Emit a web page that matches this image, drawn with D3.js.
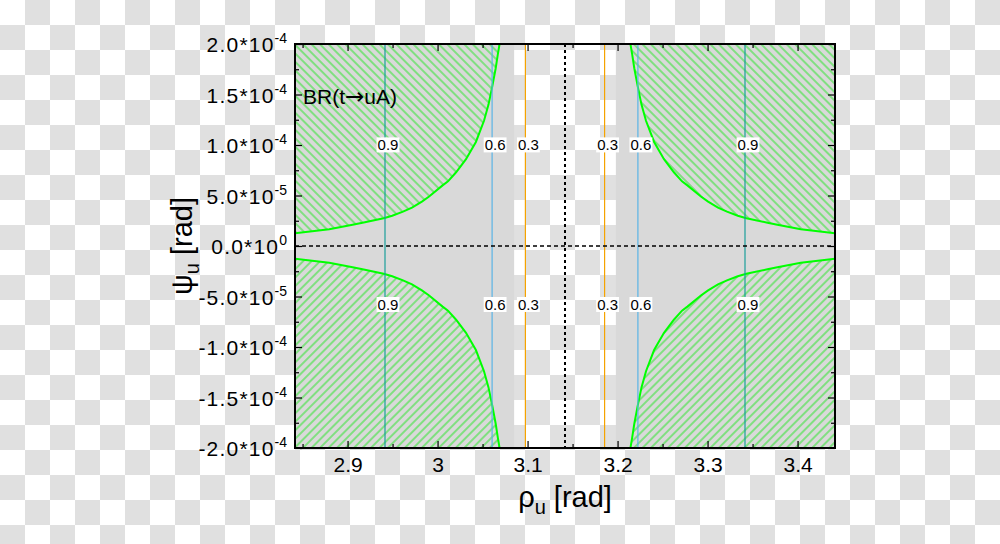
<!DOCTYPE html>
<html>
<head>
<meta charset="utf-8">
<script src="https://cdn.jsdelivr.net/npm/d3@7"></script>
<style>
  body { margin: 0; }
  svg { display: block; font-family: "Liberation Sans", Arial, sans-serif; }
</style>
</head>
<body>
<svg id="chart" width="1000" height="544"></svg>
<script>
// rho axis ticks (rad)
const rhoMajor = [2.9, 3.0, 3.1, 3.2, 3.3, 3.4];
const rhoLabels = ["2.9", "3", "3.1", "3.2", "3.3", "3.4"];
const rhoMinor = [2.85, 2.95, 3.05, 3.15, 3.25, 3.35];

// psi axis ticks (rad)
const psiMajor = [2e-4, 1.5e-4, 1e-4, 5e-5, 0, -5e-5, -1e-4, -1.5e-4, -2e-4];
const psiMantissa = ["2.0", "1.5", "1.0", "5.0", "0.0", "-5.0", "-1.0", "-1.5", "-2.0"];
const psiExponent = ["-4", "-4", "-4", "-5", "0", "-5", "-4", "-4", "-4"];
const psiMinor = [1.75e-4, 1.25e-4, 7.5e-5, 2.5e-5, -2.5e-5, -7.5e-5, -1.25e-4, -1.75e-4];

// BR contours: offset of each line from rho = pi
const contourLevels = ["0.3", "0.6", "0.9"];
const contourOffsets = [0.044, 0.081, 0.2];
const contourColors = ["#f5a300", "#5ab4e6", "#1a9e9a"];
const labelPsiTop = 1.0e-4;
const labelPsiBottom = -5.8e-5;

// excluded band edge: |rho - pi| vs |psi|, same in every quadrant
const edgeOffset = [0.0727, 0.0746, 0.0770, 0.0808, 0.0850, 0.0900, 0.0990, 0.1100,
  0.1210, 0.1300, 0.1360, 0.1510, 0.1590, 0.1700, 0.1800, 0.1920, 0.2015, 0.2250,
  0.2360, 0.2620, 0.3000];
const edgePsi = [2.0e-4, 1.9e-4, 1.76e-4, 1.58e-4, 1.40e-4, 1.24e-4, 1.03e-4, 8.6e-5,
  7.3e-5, 6.4e-5, 6.0e-5, 4.9e-5, 4.4e-5, 3.8e-5, 3.4e-5, 3.0e-5, 2.75e-5, 2.3e-5,
  2.1e-5, 1.65e-5, 1.26e-5];

// allowed (unshaded) half width around pi
const openHalfWidth = 0.0565;

const PI = Math.PI;
const pLeft = 295, pRight = 835, pTop = 44, pBottom = 448;

const svg = d3.select("#chart");
const x = d3.scaleLinear().domain([PI - 0.3, PI + 0.3]).range([pLeft, pRight]);
const y = d3.scaleLinear().domain([-2e-4, 2e-4]).range([pBottom, pTop]);

const defs = svg.append("defs");

// transparent-looking checkerboard
const checker = defs.append("pattern")
  .attr("id", "checker")
  .attr("patternUnits", "userSpaceOnUse")
  .attr("width", 50).attr("height", 50);
checker.append("rect").attr("width", 50).attr("height", 50).attr("fill", "#fff");
checker.append("rect").attr("x", 25).attr("width", 25).attr("height", 25).attr("fill", "#e0e0e0");
checker.append("rect").attr("y", 25).attr("width", 25).attr("height", 25).attr("fill", "#e0e0e0");

function hatch(id, angle) {
  const p = defs.append("pattern")
    .attr("id", id)
    .attr("patternUnits", "userSpaceOnUse")
    .attr("width", 6).attr("height", 6)
    .attr("patternTransform", `rotate(${angle})`);
  p.append("line")
    .attr("x1", 3).attr("y1", 0).attr("x2", 3).attr("y2", 6)
    .attr("stroke", "#14e614").attr("stroke-width", 0.9);
}
hatch("hatchDown", -45);
hatch("hatchUp", 45);

defs.append("clipPath").attr("id", "plotClip")
  .append("rect").attr("x", pLeft).attr("y", pTop)
  .attr("width", pRight - pLeft).attr("height", pBottom - pTop);

svg.append("rect").attr("width", 1000).attr("height", 544).attr("fill", "url(#checker)");

const plot = svg.append("g").attr("clip-path", "url(#plotClip)");

// shaded regions either side of the open band
plot.append("rect")
  .attr("x", x(PI - 0.3)).attr("y", pTop)
  .attr("width", x(PI - openHalfWidth) - x(PI - 0.3)).attr("height", pBottom - pTop)
  .attr("fill", "#d9d9d9");
plot.append("rect")
  .attr("x", x(PI + openHalfWidth)).attr("y", pTop)
  .attr("width", x(PI + 0.3) - x(PI + openHalfWidth)).attr("height", pBottom - pTop)
  .attr("fill", "#d9d9d9");

// hatched corners
const quadrants = [
  { sx: -1, sy: 1, fill: "url(#hatchDown)" },
  { sx: 1, sy: 1, fill: "url(#hatchDown)" },
  { sx: -1, sy: -1, fill: "url(#hatchUp)" },
  { sx: 1, sy: -1, fill: "url(#hatchUp)" },
];
const line = d3.line().x((d) => x(d[0])).y((d) => y(d[1]));

quadrants.forEach((q) => {
  const pts = edgeOffset.map((o, i) => [PI + q.sx * o, q.sy * edgePsi[i]]);
  const poly = pts.concat([[PI + q.sx * 0.3, q.sy * 2e-4]]);
  plot.append("path").attr("d", line(poly) + "Z").attr("fill", q.fill);
  plot.append("path").attr("d", line(pts))
    .attr("fill", "none").attr("stroke", "#00ff00").attr("stroke-width", 2);
});

// contour lines
contourOffsets.forEach((o, i) => {
  [-1, 1].forEach((s) => {
    plot.append("line")
      .attr("x1", x(PI + s * o)).attr("x2", x(PI + s * o))
      .attr("y1", pTop).attr("y2", pBottom)
      .attr("stroke", contourColors[i]).attr("stroke-width", 1.2);
  });
});

// zero lines
plot.append("line")
  .attr("x1", pLeft).attr("x2", pRight).attr("y1", y(0)).attr("y2", y(0))
  .attr("stroke", "#000").attr("stroke-width", 1.5).attr("stroke-dasharray", "4,3");
plot.append("line")
  .attr("x1", x(PI)).attr("x2", x(PI)).attr("y1", pTop).attr("y2", pBottom)
  .attr("stroke", "#000").attr("stroke-width", 2).attr("stroke-dasharray", "3,3");

// contour labels
contourOffsets.forEach((o, i) => {
  [-1, 1].forEach((s) => {
    [labelPsiTop, labelPsiBottom].forEach((p) => {
      const g = plot.append("g");
      const t = g.append("text")
        .attr("x", x(PI + s * o) + 3).attr("y", y(p))
        .attr("dy", "0.36em").attr("text-anchor", "middle")
        .attr("font-size", 15).text(contourLevels[i]);
      const b = t.node().getBBox();
      g.insert("rect", "text")
        .attr("x", b.x - 1).attr("y", b.y + 1)
        .attr("width", b.width + 2).attr("height", b.height - 2)
        .attr("fill", "#fff");
    });
  });
});

const br = plot.append("text")
  .attr("x", 303).attr("y", 104)
  .attr("font-size", 21);
br.append("tspan").text("BR(t");
br.append("tspan").attr("font-family", "DejaVu Sans").attr("font-size", 23).text("\u2192");
br.append("tspan").text("uA)");

// ticks on all four sides, pointing inward
const axes = svg.append("g");
axes.append("g").attr("transform", `translate(0,${pBottom})`)
  .call(d3.axisBottom(x).tickValues(rhoMajor).tickSize(-7).tickPadding(9)
    .tickFormat((d, i) => rhoLabels[i]))
  .call((g) => g.select(".domain").remove())
  .call((g) => g.selectAll("text").attr("font-size", 21).attr("fill", "#000"));
axes.append("g").attr("transform", `translate(0,${pBottom})`)
  .call(d3.axisBottom(x).tickValues(rhoMinor).tickSize(-4).tickFormat(""))
  .call((g) => g.select(".domain").remove());
axes.append("g").attr("transform", `translate(0,${pTop})`)
  .call(d3.axisTop(x).tickValues(rhoMajor).tickSize(-7).tickFormat(""))
  .call((g) => g.select(".domain").remove());
axes.append("g").attr("transform", `translate(0,${pTop})`)
  .call(d3.axisTop(x).tickValues(rhoMinor).tickSize(-4).tickFormat(""))
  .call((g) => g.select(".domain").remove());

axes.append("g").attr("transform", `translate(${pLeft},0)`)
  .call(d3.axisLeft(y).tickValues(psiMajor).tickSize(-7).tickFormat(""))
  .call((g) => g.select(".domain").remove());
axes.append("g").attr("transform", `translate(${pLeft},0)`)
  .call(d3.axisLeft(y).tickValues(psiMinor).tickSize(-4).tickFormat(""))
  .call((g) => g.select(".domain").remove());
axes.append("g").attr("transform", `translate(${pRight},0)`)
  .call(d3.axisRight(y).tickValues(psiMajor).tickSize(-7).tickFormat(""))
  .call((g) => g.select(".domain").remove());
axes.append("g").attr("transform", `translate(${pRight},0)`)
  .call(d3.axisRight(y).tickValues(psiMinor).tickSize(-4).tickFormat(""))
  .call((g) => g.select(".domain").remove());
axes.selectAll("g").attr("font-family", null);
axes.selectAll(".tick line").attr("stroke", "#000").attr("stroke-width", 1.2);

// psi tick labels with exponents
psiMajor.forEach((v, i) => {
  const t = svg.append("text")
    .attr("x", 287).attr("y", y(v) + 8)
    .attr("text-anchor", "end")
    .attr("font-size", 21)
    .attr("letter-spacing", 1.2);
  t.append("tspan").text(psiMantissa[i] + "*10");
  t.append("tspan").attr("dy", -9).attr("font-size", 14).attr("letter-spacing", 0).text(psiExponent[i]);
});

// frame
svg.append("rect")
  .attr("x", pLeft).attr("y", pTop)
  .attr("width", pRight - pLeft).attr("height", pBottom - pTop)
  .attr("fill", "none").attr("stroke", "#000").attr("stroke-width", 2);

// axis titles
const xt = svg.append("text")
  .attr("x", 565).attr("y", 507)
  .attr("text-anchor", "middle").attr("font-size", 29);
xt.append("tspan").text("\u03c1");
xt.append("tspan").attr("dy", 7).attr("font-size", 20).text("u");
xt.append("tspan").attr("dy", -7).text(" [rad]");

const yt = svg.append("text")
  .attr("transform", "translate(192,246) rotate(-90)")
  .attr("text-anchor", "middle").attr("font-size", 29);
yt.append("tspan").text("\u03c8");
yt.append("tspan").attr("dy", 7).attr("font-size", 20).text("u");
yt.append("tspan").attr("dy", -7).text(" [rad]");
</script>
</body>
</html>
